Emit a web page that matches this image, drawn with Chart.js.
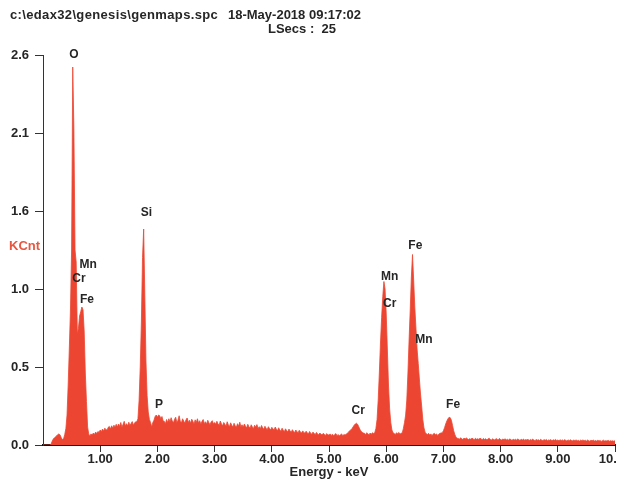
<!DOCTYPE html>
<html>
<head>
<meta charset="utf-8">
<script src="https://cdn.jsdelivr.net/npm/chart.js@4.4.1/dist/chart.umd.min.js"></script>
<style>
  html, body { margin: 0; padding: 0; background: #fff; overflow: hidden; }
  #wrap { position: relative; width: 617px; height: 482px; }
</style>
</head>
<body>
<div id="wrap"><canvas id="spectrum" width="617" height="482"></canvas></div>
<script>
// EDS spectrum, counts per 20 eV channel, channel 0 = 0.00 keV
const CHANNEL_KEV = 0.02;

// 0.00 - 0.80 keV : C bump, O K, Cr/Mn/Fe L lines
const countsLowEnergy = [
  0, 0, 0, 0, 0, 0, 0,
  5, 25, 40, 48, 55, 62, 70, 74, 66, 48,
  36, 42, 70, 110, 200, 400, 640, 900, 1300, 2520,
  2110, 1300, 1220, 740, 780, 860, 890, 920, 900, 760,
  480, 290, 120, 72
];
// 0.82 - 1.62 keV : continuum
const countsBelowSi = [
  62, 74, 66, 80, 70, 86, 76, 90, 84, 100,
  88, 106, 94, 112, 104, 98, 118, 124, 106, 128,
  112, 132, 118, 138, 120, 140, 124, 150, 118, 138,
  158, 126, 142, 128, 152, 130, 144, 156, 132, 146,
  155
];
// 1.64 - 2.10 keV : Si K and P K
const countsSiP = [
  155, 175, 300, 520, 820, 1250, 1440, 1000, 560, 330,
  220, 170, 150, 120, 150, 165, 190, 200, 185, 200,
  195, 175, 190, 160
];
// 2.12 - 3.00 keV : continuum maximum
const countsContinuum2 = [
  158, 142, 170, 150, 175, 155, 182, 160, 148, 172,
  185, 150, 165, 195, 158, 148, 175, 160, 145, 168,
  180, 150, 165, 145, 172, 158, 140, 168, 150, 175,
  145, 162, 138, 158, 170, 142, 155, 138, 165, 148,
  135, 155, 162, 140, 150
];
// 3.02 - 4.00 keV
const countsContinuum3 = [
  138, 158, 140, 132, 160, 140, 128, 150, 138, 125,
  155, 135, 122, 148, 132, 120, 145, 128, 118, 142,
  125, 152, 122, 135, 118, 140, 125, 115, 138, 122,
  112, 135, 120, 110, 132, 118, 136, 110, 122, 108,
  130, 115, 105, 125, 112, 102, 122, 110, 100, 118
];
// 4.02 - 5.00 keV
const countsContinuum4 = [
  108, 100, 120, 105, 96, 115, 100, 92, 112, 98,
  90, 108, 95, 88, 106, 94, 85, 102, 90, 84,
  100, 88, 82, 98, 86, 80, 94, 84, 78, 92,
  82, 74, 90, 78, 72, 86, 76, 70, 84, 74,
  68, 80, 72, 66, 78, 70, 64, 76, 68, 66
];
// 5.02 - 5.28 keV
const countsContinuum5 = [74, 64, 72, 62, 70, 76, 62, 70, 60, 68, 74, 62, 70, 66];
// 5.30 - 5.60 keV : Cr K-alpha
const countsCrKa = [72, 78, 85, 95, 100, 108, 120, 132, 140, 145, 138, 122, 105, 92, 85, 80];
// 5.62 - 5.78 keV
const countsBeforeMn = [78, 70, 82, 74, 68, 80, 72, 82, 76];
// 5.80 - 6.12 keV : Mn K-alpha / Cr K-beta
const countsMnKa = [82, 110, 170, 300, 480, 680, 850, 990, 1090, 1040, 880, 640, 400, 240, 150, 100, 82];
// 6.14 - 6.26 keV
const countsBeforeFe = [76, 70, 82, 74, 84, 72, 78];
// 6.28 - 6.70 keV : Fe K-alpha / Mn K-beta
const countsFeKa = [
  80, 110, 150, 200, 300, 480, 700, 900, 1120, 1270,
  1100, 920, 780, 640, 545, 440, 340, 260, 170, 115,
  85, 75
];
// 6.72 - 6.96 keV
const countsBetweenFe = [70, 78, 66, 74, 64, 72, 78, 68, 74, 64, 72, 78, 80];
// 6.98 - 7.24 keV : Fe K-beta
const countsFeKb = [82, 95, 115, 140, 160, 175, 185, 182, 165, 130, 95, 70, 52, 45];
// 7.26 - 10.00 keV : high-energy tail
const countsTail = [
  44, 38, 48, 42, 36, 46, 40, 47, 41, 36,
  42, 38, 46, 40, 35, 45, 38, 42, 37, 46,
  40, 35, 44, 37, 42, 34, 40, 45, 37, 34,
  41, 36, 33, 43, 37, 34, 44, 36, 33, 40,
  35, 42, 33, 38, 32, 41, 35, 31, 39, 34,
  38, 32, 41, 34, 31, 38, 33, 40, 31, 36,
  33, 38, 30, 37, 32, 40, 33, 29, 37, 32,
  35, 30, 38, 32, 29, 36, 31, 37, 29, 34,
  31, 36, 28, 35, 31, 37, 30, 33, 28, 35,
  30, 34, 28, 36, 30, 27, 34, 29, 35, 30,
  28, 33, 29, 34, 28, 31, 26, 33, 29, 34,
  28, 32, 26, 33, 29, 25, 32, 28, 33, 27,
  30, 26, 32, 27, 30, 24, 29, 32, 26, 29,
  26, 31, 25, 29, 26, 28, 25, 29
];

// axis ticks
const yTickValues = [0, 0.52, 1.04, 1.56, 2.08, 2.6];
const yTickLabels = ['0.0', '0.5', '1.0', '1.6', '2.1', '2.6'];
const xTickValues = [1, 2, 3, 4, 5, 6, 7, 8, 9, 10];
const xTickLabels = ['1.00', '2.00', '3.00', '4.00', '5.00', '6.00', '7.00', '8.00', '9.00', '10.00'];

// element markers: name, energy (keV) and height (KCnt) of the label
const peakNames = ['O', 'Mn', 'Cr', 'Fe', 'Si', 'P', 'Cr', 'Mn', 'Cr', 'Fe', 'Mn', 'Fe'];
const peakEnergies = [0.54, 0.79, 0.63, 0.77, 1.81, 2.03, 5.51, 6.06, 6.06, 6.51, 6.66, 7.17];
const peakLabelKcnt = [2.6, 1.20, 1.11, 0.97, 1.55, 0.27, 0.23, 1.12, 0.94, 1.33, 0.70, 0.27];

const headerFile = 'c:\\edax32\\genesis\\genmaps.spc';
const headerDate = '18-May-2018 09:17:02';
const headerLive = 'LSecs :  25';

const FONT = 'Arial, "Liberation Sans", sans-serif';
const TEXT = '#262626';
const SPECTRUM = '#ec4632';

const counts = [].concat(
  countsLowEnergy, countsBelowSi, countsSiP, countsContinuum2, countsContinuum3,
  countsContinuum4, countsContinuum5, countsCrKa, countsBeforeMn, countsMnKa,
  countsBeforeFe, countsFeKa, countsBetweenFe, countsFeKb, countsTail
);
const points = counts.map((c, i) => ({ x: +(i * CHANNEL_KEV).toFixed(2), y: c / 1000 }));

const annotations = {
  id: 'annotations',
  afterDatasetsDraw(chart) {
    const { ctx, scales: { x, y } } = chart;
    ctx.save();
    ctx.font = 'bold 12px ' + FONT;
    ctx.fillStyle = TEXT;
    ctx.textAlign = 'center';
    ctx.textBaseline = 'middle';
    peakNames.forEach((name, i) => {
      ctx.fillText(name, x.getPixelForValue(peakEnergies[i]), y.getPixelForValue(peakLabelKcnt[i]));
    });
    ctx.restore();
  },
  afterDraw(chart) {
    const { ctx } = chart;
    ctx.save();
    ctx.font = 'bold 13px ' + FONT;
    ctx.fillStyle = TEXT;
    ctx.textAlign = 'left';
    ctx.textBaseline = 'middle';
    ctx.letterSpacing = '0.35px';
    ctx.fillText(headerFile, 10, 15);
    ctx.letterSpacing = '0px';
    ctx.fillText(headerDate, 228, 15);
    ctx.fillText(headerLive, 268, 29);
    ctx.fillStyle = '#e9563f';
    ctx.fillText('KCnt', 9, 246);
    ctx.restore();
  }
};

new Chart(document.getElementById('spectrum'), {
  type: 'line',
  data: {
    datasets: [{
      data: points,
      fill: 'origin',
      backgroundColor: SPECTRUM,
      borderColor: SPECTRUM,
      borderWidth: 0.8,
      pointRadius: 0,
      tension: 0
    }]
  },
  options: {
    responsive: false,
    animation: false,
    devicePixelRatio: 1,
    layout: { padding: { top: 55, right: 2, bottom: 0, left: 0 } },
    plugins: { legend: { display: false }, tooltip: { enabled: false } },
    scales: {
      x: {
        type: 'linear',
        min: 0,
        max: 10,
        z: 1,
        afterBuildTicks(scale) { scale.ticks = xTickValues.map(v => ({ value: v })); },
        afterFit(scale) { scale.height = 37; scale.paddingLeft = 0; scale.paddingRight = 0; },
        ticks: {
          autoSkip: false,
          maxRotation: 0,
          padding: 0,
          color: TEXT,
          font: { family: FONT, size: 13, weight: 'bold' },
          callback: (v, i) => xTickLabels[i]
        },
        grid: { drawOnChartArea: false, drawTicks: true, tickLength: 7, color: '#333' },
        border: { display: true, color: '#111', width: 2 },
        title: {
          display: true,
          text: 'Energy - keV',
          color: TEXT,
          font: { family: FONT, size: 13, weight: 'bold' },
          padding: { top: 0, bottom: 2 }
        }
      },
      y: {
        min: 0,
        max: 2.6,
        afterBuildTicks(scale) { scale.ticks = yTickValues.map(v => ({ value: v })); },
        afterFit(scale) { scale.width = 43; },
        ticks: {
          padding: 6,
          color: TEXT,
          font: { family: FONT, size: 13, weight: 'bold' },
          callback: (v, i) => yTickLabels[i]
        },
        grid: { drawOnChartArea: false, drawTicks: true, tickLength: 8, color: '#333' },
        border: { display: true, color: '#333', width: 1 }
      }
    }
  },
  plugins: [annotations]
});
</script>
</body>
</html>
